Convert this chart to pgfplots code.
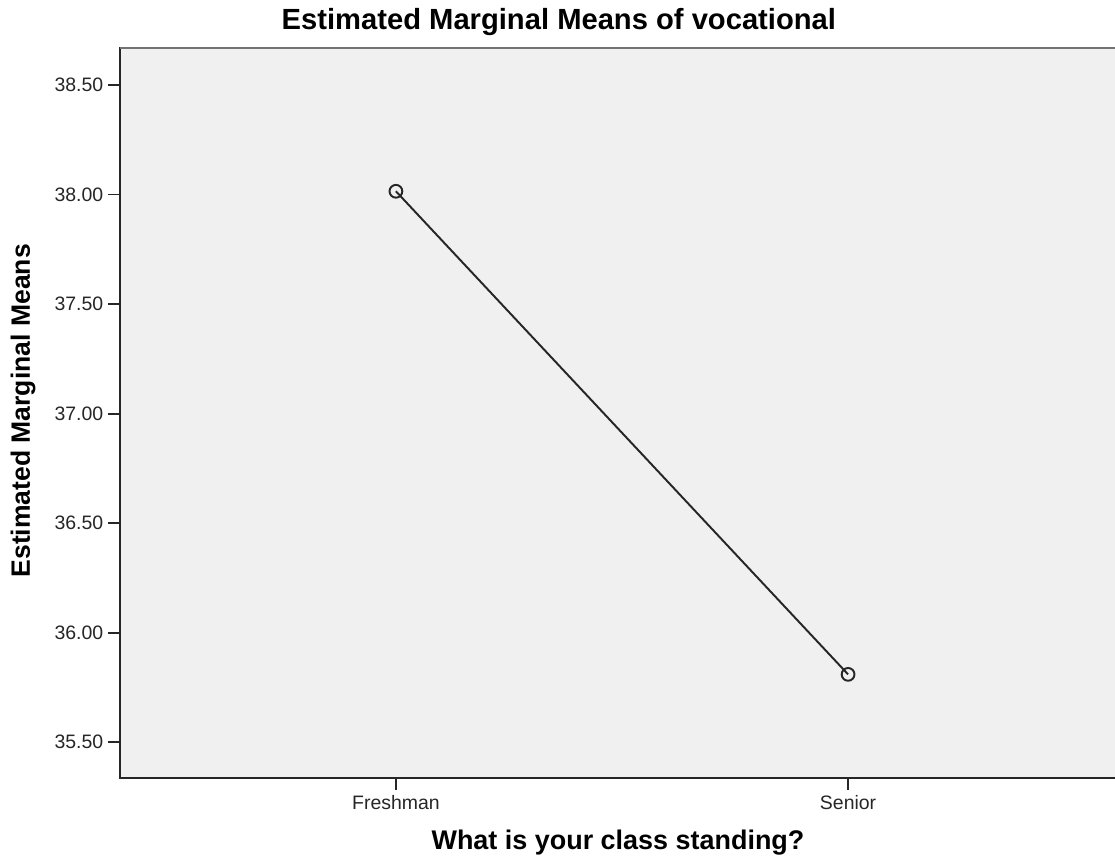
\documentclass[border=0pt]{standalone}
\usepackage{pgfplots}
\pgfplotsset{compat=1.18}
\usepackage{fontspec}
\setmainfont{Liberation Sans}
\definecolor{bgc}{HTML}{F0F0F0}
\begin{document}
\begin{tikzpicture}
\begin{axis}[
  at={(43.2pt,29.88pt)}, anchor=south west,
  scale only axis, width=361.44pt, height=262.8pt,
  xmin=-0.6102, xmax=1.6102, ymin=35.337, ymax=38.669,
  axis background/.style={fill=bgc},
  axis line style={draw=black!85, line width=0.6pt},
  xtick={0,1}, xticklabels={Freshman,Senior},
  ytick={35.5,36,36.5,37,37.5,38,38.5},
  yticklabel style={/pgf/number format/fixed, /pgf/number format/fixed zerofill, /pgf/number format/precision=2, xshift=1.8pt},
  /pgf/number format/assume math mode=true,
  tick align=outside, tick pos=left,
  major tick length=4.3pt,
  tick style={draw=black!85, line width=0.65pt},
  ticklabel style={font=\fontsize{7}{8}\selectfont, text=black!85},
  xticklabel style={yshift=1.4pt},
  xlabel={\bfseries What is your class standing?},
  xlabel style={at={(rel axis cs:0.496,-0.089)}, anchor=center, font=\fontsize{9.7}{11}\selectfont},
  ylabel={\bfseries Estimated Marginal Means},
  ylabel style={at={(rel axis cs:-0.0966,0.503)}, anchor=center, rotate=0, font=\fontsize{9.55}{11}\selectfont},
]
\draw[draw=gray!90!black, line width=0.9pt] (rel axis cs:0,1) -- (rel axis cs:1,1);
\addplot[black!85, line width=0.7pt, mark=o, mark size=2.3pt, mark options={line width=0.7pt}] coordinates {(0,38.015) (1,35.81)};
\end{axis}
\node[font=\fontsize{10.5}{12}\selectfont\bfseries, anchor=center] at (201.2pt,301.9pt) {Estimated Marginal Means of vocational};
\pgfresetboundingbox
\path[use as bounding box] (0pt,0pt) rectangle (401.4pt,309.96pt);
\end{tikzpicture}
\end{document}
